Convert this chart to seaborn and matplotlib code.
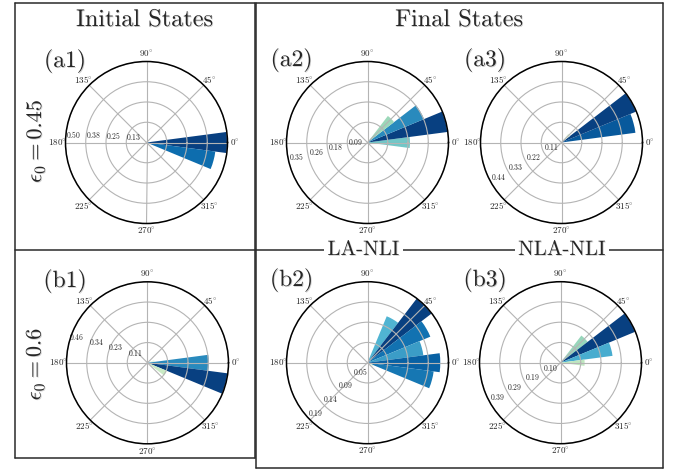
import numpy as np
import matplotlib
matplotlib.use("Agg")
import matplotlib.pyplot as plt
import matplotlib.patheffects as pe
from matplotlib.lines import Line2D
import seaborn as sns

# Rose histograms of the in-plane angle distribution (15 degree bins)
a1_angles = [0, -15]
a1_values = [0.502, 0.43]
a2_angles = [0, 15, 30, 45]
a2_values = [0.184, 0.351, 0.265, 0.145]
a3_angles = [15, 30, 45]
a3_values = [0.405, 0.44, 0.06]
b1_angles = [15, 0, -15, -30]
b1_values = [0.04, 0.345, 0.456, 0.118]
b2_angles = [60, 45, 30, 15, 0, -15, -30]
b2_values = [0.116, 0.187, 0.157, 0.13, 0.168, 0.154, 0.015]
b3_angles = [45, 30, 15, 0]
b3_values = [0.163, 0.386, 0.25, 0.115]

panel_labels = ["(a1)", "(a2)", "(a3)", "(b1)", "(b2)", "(b3)"]
column_titles = ["Initial States", "Final States"]
model_labels = ["LA-NLI", "NLA-NLI"]
row_labels = [r"$\epsilon_0 = 0.45$", r"$\epsilon_0 = 0.6$"]
theta_ticks = [0, 45, 90, 135, 180, 225, 270, 315]

sns.set_theme(style="white")
plt.rcParams["mathtext.fontset"] = "cm"
plt.rcParams["axes.axisbelow"] = "line"

W, H = 676, 472
fig = plt.figure(figsize=(W / 100, H / 100), dpi=100)
cmap = sns.color_palette("GnBu", as_cmap=True)
soft = [pe.SimplePatchShadow(offset=(0.6, -0.6), shadow_rgbFace="#777777", alpha=0.35),
        pe.Normal()]

R = 81
panels = [
    (a1_angles, a1_values, (146.5, 142.5), 178),
    (a2_angles, a2_values, (367.5, 142.5), 194),
    (a3_angles, a3_values, (561.5, 142.5), 209),
    (b1_angles, b1_values, (147.5, 362.8), 165),
    (b2_angles, b2_values, (367.5, 362.7), 223),
    (b3_angles, b3_values, (560.5, 362.7), 209),
]
label_pos = [(65, 61), (291.5, 60), (485, 60), (65, 281), (291.5, 280), (485, 280)]

for (angles, values, (cx, cy), rpos), lab, (lx, ly) in zip(panels, panel_labels, label_pos):
    ax = fig.add_axes([(cx - R) / W, 1 - (cy + R) / H, 2 * R / W, 2 * R / H],
                      projection="polar")
    vals = np.asarray(values)
    rmax = vals.max()
    ax.bar(np.deg2rad(angles), vals, width=np.deg2rad(15), bottom=0,
           color=cmap(vals / rmax), edgecolor="none", zorder=1)
    ax.set_ylim(0, rmax)
    rt = rmax * np.array([0.25, 0.5, 0.75, 1.0])
    ax.set_yticks(rt)
    ax.set_yticklabels([f"${v:.2f}$" for v in rt], fontsize=5.5)
    ax.set_rlabel_position(rpos)
    ax.set_thetagrids(theta_ticks,
                      labels=[f"${t}^{{\\circ}}$" for t in theta_ticks],
                      fontsize=6.5)
    # theta labels sit just outside the rim (matplotlib adds 7 pt of its own)
    ax.tick_params(axis="x", pad=-1.5, size=0)
    ax.tick_params(axis="y", size=0, pad=0)
    ax.grid(True, color="#b4b4b4", lw=0.8, zorder=2)
    ax.spines["polar"].set_color("black")
    ax.spines["polar"].set_linewidth(1.1)
    ax.set_facecolor("white")
    fig.text(lx / W, 1 - ly / H, lab, family="cmr10", fontsize=17,
             ha="center", va="center", path_effects=soft)


def hline(x0, x1, y):
    fig.add_artist(Line2D([x0 / W, x1 / W], [1 - y / H, 1 - y / H],
                          transform=fig.transFigure, color="#2a2a2a", lw=1.1))


def vline(x, y0, y1):
    fig.add_artist(Line2D([x / W, x / W], [1 - y0 / H, 1 - y1 / H],
                          transform=fig.transFigure, color="#2a2a2a", lw=1.1))


# panel frames
hline(15, 255, 2.7)
hline(15, 255, 458.3)
vline(15, 2.7, 458.3)
vline(255, 2.7, 458.3)
hline(256, 663.3, 2.7)
hline(256, 663.3, 467.7)
vline(256, 2.7, 467.7)
vline(663.3, 2.7, 467.7)
hline(15, 255, 250)
hline(256, 663.3, 250)

fig.text(144.5 / W, 1 - 20 / H, column_titles[0], family="cmr10", fontsize=17.5,
         ha="center", va="center", path_effects=soft)
fig.text(459 / W, 1 - 20 / H, column_titles[1], family="cmr10", fontsize=17.5,
         ha="center", va="center", path_effects=soft)
for txt, x in zip(model_labels, [363.3, 561.7]):
    fig.text(x / W, 1 - 250 / H, txt, family="cmr10", fontsize=15,
             ha="center", va="center", path_effects=soft,
             bbox=dict(facecolor="white", edgecolor="none", pad=2.5))
for txt, y in zip(row_labels, [141, 364]):
    fig.text(35 / W, 1 - y / H, txt, fontsize=16, rotation=90,
             ha="center", va="center", path_effects=soft)

fig.savefig("out.png", dpi=100)
